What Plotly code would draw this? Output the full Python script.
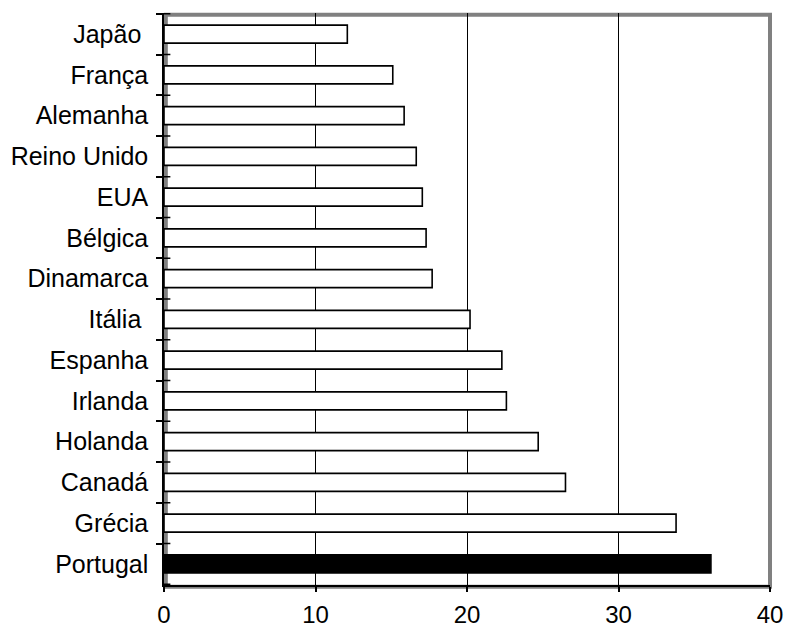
import plotly.graph_objects as go

countries = ["Japão\u00a0", "França", "Alemanha", "Reino Unido", "EUA", "Bélgica", "Dinamarca",
             "Itália\u00a0", "Espanha", "Irlanda", "Holanda", "Canadá", "Grécia", "Portugal"]
values = [12.1, 15.1, 15.85, 16.65, 17.05, 17.3, 17.7, 20.2, 22.3, 22.6, 24.7, 26.5, 33.8, 36.1]
highlight = "Portugal"
x_ticks = [0, 10, 20, 30, 40]

fills = ["black" if c == highlight else "white" for c in countries]

fig = go.Figure()
fig.add_trace(go.Bar(
    y=countries, x=values, orientation="h",
    marker=dict(color=fills, line=dict(color="black", width=1.6)),
    width=0.44,
))

font = dict(family="Liberation Sans, Arial, sans-serif", size=25, color="black")
xfont = dict(family="Liberation Sans, Arial, sans-serif", size=24, color="black")

# gray frame around plot area
fig.add_shape(type="rect", xref="paper", yref="paper", x0=0.003, x1=1, y0=-0.003, y1=0.997,
              line=dict(color="#808080", width=4), layer="below")

# crossing tick marks on the category axis (at category boundaries)
n = len(countries)
for i in range(n + 1):
    fig.add_shape(type="line", xref="paper", yref="y", x0=0, x1=0.0105,
                  y0=i - 0.5, y1=i - 0.5, line=dict(color="black", width=1.5))

fig.update_layout(
    width=787, height=630,
    margin=dict(l=164, r=17, t=13, b=45),
    plot_bgcolor="white", paper_bgcolor="white",
    font=font, showlegend=False,
    bargap=0.56,
    xaxis=dict(range=[0, 40], tickvals=x_ticks, ticks="outside", ticklen=5,
               tickcolor="black", tickwidth=1.5,
               showgrid=True, gridcolor="black", gridwidth=1.3,
               showline=True, linecolor="black", linewidth=1.5,
               zeroline=False, tickfont=xfont, automargin=False,
               ticklabelstandoff=2),
    yaxis=dict(autorange="reversed", type="category", tickson="boundaries",
               ticks="outside", ticklen=6, tickcolor="black", tickwidth=1.5,
               showgrid=False, showline=True, linecolor="black", linewidth=1.5,
               tickfont=font, ticklabelstandoff=9, automargin=False),
)

fig.write_html("out.html")
